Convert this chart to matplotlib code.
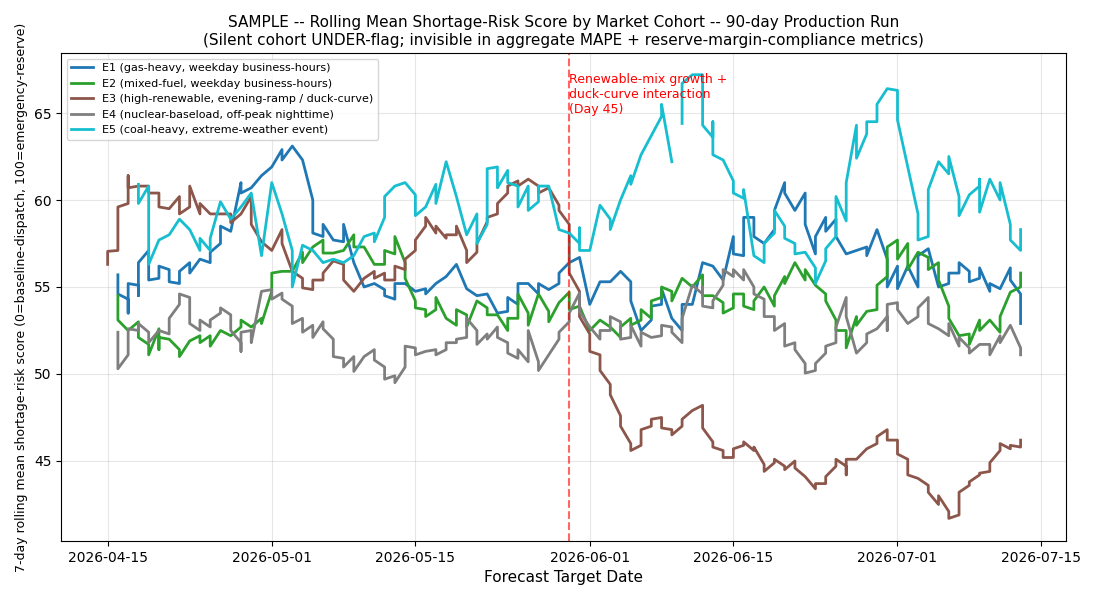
"""Rolling mean shortage-risk score by market cohort (sample production run)."""

import matplotlib
matplotlib.use("Agg")
import matplotlib.pyplot as plt
import matplotlib.dates as mdates
import numpy as np

nan = np.nan

# One entry per day; a tuple holds several readings on the same date (drawn
# as a vertical stroke), nan marks a break in the line.
E1_START = "2026-04-16"
E1_VALUES = [
    (55.7, 54.6), (54.3, 53.5, 55.2), (55.1, 54.5, 56.4), (57.1, 55.4), (55.5, 56.2),
    (56.0, 55.3), (55.2, 55.9), (56.4, 55.8), 56.6, (56.4, 57.0),
    (57.5, 58.5), 58.2, (61.0, 60.4), 60.7, 61.4,
    61.9, (62.9, 62.3), 63.1, 62.3, (60.0, 58.1),
    (57.9, 58.6), 57.7, (57.6, 58.6), 56.4, 55.0,
    55.2, (54.85, 54.5), (54.3, 55.2), 55.2, 54.75,
    (54.9, 54.6), 55.2, 55.6, 56.3, 54.9,
    54.5, 54.6, 53.5, (53.6, 54.4), (54.0, 55.2),
    55.2, (54.6, 55.2), 54.85, (55.2, 55.8), 56.4,
    56.7, 54.0, 55.3, 55.3, 55.9,
    (55.3, 54.2), 52.5, (53.1, 53.9), (54.0, 54.9), 53.2,
    (52.5, 54.0), 54.0, 56.4, 56.2, 55.4,
    (57.9, 56.9), (56.8, 59.0), (59.0, 57.9), 57.5, (58.3, 59.4),
    (61.0, 60.4), 59.4, (60.4, 58.6), (56.9, 57.9), (59.0, 58.2),
    (58.9, 57.9), 56.9, 57.1, (57.3, 56.8), 58.3,
    (56.6, 55.0), (56.2, 54.9), 56.2, (55.0, 56.8), 57.2,
    55.0, (55.2, 55.8), (55.8, 56.4), (55.9, 55.3), (55.5, 56.1),
    (54.75, 55.2), 54.9, (56.1, 55.4), (54.6, 52.9),
]

E2_START = "2026-04-16"
E2_VALUES = [
    (54.5, 53.1), 52.5, (53.0, 52.1), (51.7, 51.1), (52.6, 51.4, 52.1),
    52.0, (51.4, 51.0), 51.9, (52.2, 51.8), (52.2, 51.6),
    52.5, 52.2, (52.7, 53.1), 52.7, (53.2, 52.9),
    (54.75, 55.8), 55.9, 55.9, (57.0, 56.4), 57.3,
    (57.7, 56.95), 56.95, 57.1, (58.0, 57.3), 57.3,
    56.3, (56.3, 57.1), (56.9, 57.9), (56.4, 55.5), (54.2, 53.8),
    (53.7, 53.3), (53.7, 54.4), 53.2, (52.8, 53.7), (53.4, 52.7),
    54.2, (53.8, 53.4), 53.4, (52.5, 53.2), (53.2, 54.6),
    (53.5, 52.8), 54.6, (53.6, 53.0), 54.1, (54.7, 53.7),
    53.9, 52.5, 53.1, 52.7, (52.1, 52.7),
    (53.2, 52.8), (53.1, 53.7), (53.2, 54.2), (54.4, 55.0), (54.75, 54.2),
    55.5, 55.0, (55.7, 54.5), 54.5, (54.1, 53.5),
    (53.8, 54.6), (54.6, 53.9), (53.7, 54.2), 55.0, (53.9, 54.5),
    (55.6, 55.2), 56.4, (55.4, 56.0), 55.1, (54.6, 54.2),
    (53.1, 52.5), (52.5, 51.5), (53.3, 52.8), 53.6, (53.7, 55.1),
    (55.6, 57.3), (57.7, 56.6), (57.5, 56.0), 57.0, (56.7, 56.0),
    (56.4, 55.4), (53.9, 53.2), 52.2, (52.3, 51.7), (53.1, 52.5),
    53.1, (52.4, 53.3), 54.7, (55.0, 55.8),
]

E3_START = "2026-04-15"
E3_VALUES = [
    (56.3, 57.05), (57.1, 59.6), (59.8, 61.4, 60.7), 60.8, (60.8, 60.4),
    (60.4, 59.6), 59.5, (60.2, 59.2), (59.6, 60.8), (59.2, 59.8),
    59.2, 59.2, (59.2, 58.7), 59.2, (60.2, 58.6),
    57.6, 57.1, (58.3, 57.5), 55.9, (55.5, 54.95),
    (54.85, 55.4), (55.4, 55.8), 56.5, (56.3, 55.4), 54.75,
    55.5, (55.9, 55.5), (55.8, 55.4), (55.4, 56.2), (56.0, 56.6),
    (57.1, 57.7), (58.5, 59.0), (58.1, 58.5), (57.8, 58.0), (58.0, 58.5),
    (57.1, 56.4), (57.0, 57.5), (58.75, 59.0), (59.2, 59.8), (60.4, 60.8),
    (61.1, 60.8), 61.2, (60.8, 60.4), 60.7, (59.7, 59.4),
    (58.6, 55.8), (54.75, 53.3), (52.3, 51.3), (51.1, 50.2), (49.4, 48.8),
    (47.6, 47.0), (46.0, 45.6), (45.9, 46.8), (47.0, 47.4), (47.5, 46.9),
    (46.8, 46.5), (47.0, 47.4), 47.9, (48.2, 46.9), (46.1, 45.8),
    (45.6, 45.2), (45.2, 45.7), (45.9, 46.1), (45.6, 45.8), (44.8, 44.4),
    (44.9, 45.1), (44.7, 44.5), (45.0, 44.6), 44.1, (43.4, 43.7),
    (43.7, 44.1), (44.7, 45.1), (44.7, 44.2, 45.1), 45.1, 45.7,
    (46.0, 46.4), (46.8, 46.2), (46.2, 45.4), (45.1, 44.2), 44.0,
    (43.6, 43.2), (42.5, 43.0), (42.1, 41.7), (41.9, 43.2), (43.6, 43.8),
    (44.2, 44.3), (44.4, 44.9), (45.6, 46.0), (45.7, 45.9), (45.8, 46.2),
]

E4_START = "2026-04-16"
E4_VALUES = [
    (52.4, 50.3), (51.1, 52.6), (52.5, 52.9), (52.4, 51.8), 52.5,
    (52.3, 53.2), (54.0, 54.6), (54.4, 52.9), (52.5, 53.1), (52.7, 53.1),
    (53.5, 53.8), (53.4, 52.5), (51.8, 51.3, 52.4), (52.5, 51.8), 54.75,
    (54.85, 54.3), (54.65, 54.3), (53.9, 52.9), (53.2, 52.4), (52.8, 52.1),
    (53.0, 52.6), (52.0, 51.0), (50.9, 50.4), (51.0, 50.15), 51.0,
    (51.4, 50.8), (50.4, 49.7), (49.9, 49.5), (50.4, 51.6), (51.5, 51.1),
    51.3, (51.4, 51.1), (51.4, 51.8), (51.8, 52.0), (52.1, 53.2),
    (52.5, 51.7), (52.3, 52.0), (52.7, 52.1), (51.8, 51.2), (50.9, 51.4),
    (50.7, 52.5), (50.7, 50.2), 51.1, (52.0, 52.4), (53.0, 53.5),
    (54.65, 53.6), 52.7, (52.0, 52.5), (52.5, 53.3), (53.0, 52.0),
    (52.1, 52.8), (51.6, 52.4), 52.1, (52.2, 52.8), (52.7, 52.4),
    (51.8, 53.2), 55.1, (54.6, 55.0, 53.9), (53.8, 54.2), (55.1, 56.0),
    (55.6, 56.0), (55.4, 56.0), (55.0, 54.6), (54.3, 53.3), (53.3, 52.5),
    (52.9, 51.6), (51.8, 51.4), (50.6, 50.05), (50.2, 50.6), (51.2, 51.6),
    (51.8, 52.7), (54.4, 53.3), 51.2, (51.8, 52.3), 52.6,
    (53.3, 52.5, 54.0), (54.1, 53.7), 52.9, (53.3, 53.8), (54.4, 52.9),
    52.6, (52.2, 52.9), (51.6, 52.1), (51.5, 51.2), 51.7,
    (51.7, 51.1), (52.2, 51.8), 52.8, (51.5, 51.1),
]

E5_START = "2026-04-18"
E5_VALUES = [
    (60.9, 59.8), (60.8, 56.3), 57.7, 58.0, 58.9,
    58.3, (57.1, 57.8), (57.1, 57.8), 59.9, 58.9,
    59.6, 60.4, 56.8, 61.0, 59.2,
    (57.1, 55.0), 57.4, 57.1, 56.4, 56.6,
    56.4, 56.8, 57.9, (58.1, 57.6), (59.0, 60.2),
    60.8, 61.0, (60.3, 59.1), 59.6, (60.9, 59.8),
    62.2, 60.2, 58.0, (59.2, 57.5), (58.6, 61.8),
    (61.9, 60.7), (61.7, 61.0), (60.8, 59.6), (60.8, 59.4), (59.9, 60.8),
    60.8, 58.3, 58.1, (57.5, 58.4, 57.1), 57.1,
    59.7, (58.9, 58.3), 60.0, (61.4, 60.9), 62.6,
    63.7, (64.8, 65.5), (62.2, nan), (64.4, 66.7), 67.2,
    (67.2, 64.3), (63.6, 64.5, 62.6), 62.3, (61.1, 60.4), (60.1, 60.6),
    56.8, (56.4, 57.5), (58.1, 59.4), (58.5, 57.8), (57.5, 56.9),
    57.0, (56.1, 55.2), (56.5, 57.2), (57.9, 60.2), (58.8, 61.0),
    (64.3, 62.4), (63.8, 64.5), (64.5, 65.5), 66.4, (66.3, 64.6),
    61.9, (59.2, 57.7), (57.9, 60.6), 62.2, (61.5, 62.5),
    (60.2, 59.1), 60.3, (60.8, 61.2, 59.3), 61.2, (60.0, 61.0),
    (58.6, 57.7), (57.1, 58.3),
]

COHORT_LABELS = [
    "E1 (gas-heavy, weekday business-hours)",
    "E2 (mixed-fuel, weekday business-hours)",
    "E3 (high-renewable, evening-ramp / duck-curve)",
    "E4 (nuclear-baseload, off-peak nighttime)",
    "E5 (coal-heavy, extreme-weather event)",
]
COHORT_COLORS = ["#1f77b4", "#2ca02c", "#8c564b", "#7f7f7f", "#17becf"]

EVENT_DATE = "2026-05-30"
EVENT_TEXT = "Renewable-mix growth +\nduck-curve interaction\n(Day 45)"


def _expand(start, values):
    """Flatten daily entries into (date, value) pairs."""
    base = np.datetime64(start)
    xs, ys = [], []
    for i, entry in enumerate(values):
        day = base + np.timedelta64(i, "D")
        for v in (entry if isinstance(entry, tuple) else (entry,)):
            xs.append(day)
            ys.append(v)
    return np.array(xs), np.array(ys, dtype=float)


def main():
    fig, ax = plt.subplots(figsize=(11, 6), dpi=100)
    fig.subplots_adjust(left=0.0555, right=0.969, top=0.9117, bottom=0.0983)

    series = [
        (E1_START, E1_VALUES), (E2_START, E2_VALUES), (E3_START, E3_VALUES),
        (E4_START, E4_VALUES), (E5_START, E5_VALUES),
    ]
    for (start, vals), label, color in zip(series, COHORT_LABELS, COHORT_COLORS):
        xs, ys = _expand(start, vals)
        ax.plot(xs, ys, color=color, linewidth=2, label=label)

    event = np.datetime64(EVENT_DATE)
    ax.axvline(event, color="red", linestyle="--", linewidth=1.5, alpha=0.6)
    ax.text(event, 67.3, EVENT_TEXT, color="red", fontsize=9, va="top", ha="left")

    ax.set_xlim(np.datetime64("2026-04-15") - np.timedelta64(109, "h"),
                np.datetime64("2026-04-15") + np.timedelta64(2242, "h"))
    ax.set_ylim(40.4, 68.45)
    ax.set_yticks([45, 50, 55, 60, 65])
    ax.xaxis.set_major_locator(mdates.DayLocator(bymonthday=[1, 15]))
    ax.xaxis.set_major_formatter(mdates.DateFormatter("%Y-%m-%d"))

    ax.set_title("SAMPLE -- Rolling Mean Shortage-Risk Score by Market Cohort -- 90-day Production Run\n"
                 "(Silent cohort UNDER-flag; invisible in aggregate MAPE + reserve-margin-compliance metrics)",
                 fontsize=11)
    ax.set_xlabel("Forecast Target Date", fontsize=11)
    ax.set_ylabel("7-day rolling mean shortage-risk score (0=baseline-dispatch, 100=emergency-reserve)",
                  fontsize=9)
    ax.grid(True, alpha=0.3)
    ax.legend(loc="upper left", fontsize=8)

    fig.savefig("out.png", dpi=100)
    plt.close(fig)


if __name__ == "__main__":
    main()
